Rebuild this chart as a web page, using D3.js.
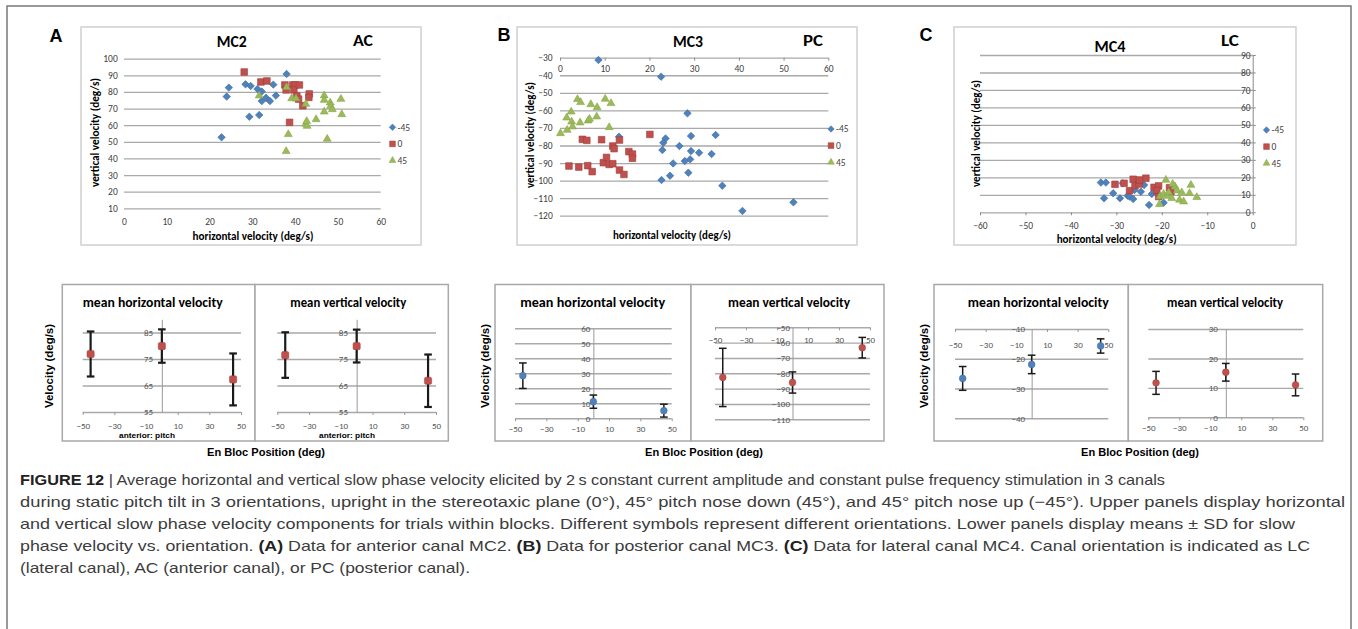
<!DOCTYPE html>
<html>
<head>
<meta charset="utf-8">
<script src="https://cdn.jsdelivr.net/npm/d3@7/dist/d3.min.js"></script>
<style>
html,body{margin:0;padding:0;background:#fff;}
svg{display:block;}
</style>
</head>
<body>
<svg id="fig" width="1358" height="629"></svg>
<script>
// ================= DATA =================
const orientationLabels = ["-45", "0", "45"];

// Panel A (MC2, AC) : [horizontal velocity, vertical velocity]
const mc2Neg45 = [[22.8,52.7],[24.0,77.2],[24.5,82.6],[28.4,84.6],[29.6,83.6],[29.3,65.1],[31.2,81.8],[31.6,66.1],[32.2,80.2],[32.2,74.5],[33.2,76.5],[34.1,74.5],[34.9,84.4],[35.5,77.8],[38.0,90.8]];
const mc2Zero  = [[28.1,92.0],[32.0,86.0],[33.4,86.6],[37.6,84.2],[37.9,81.2],[38.7,61.7],[39.4,84.2],[40.0,84.2],[39.7,81.2],[40.4,77.6],[41.0,84.2],[40.8,75.7],[41.8,71.7],[43.3,78.8],[43.2,76.7]];
const mc2Pos45 = [[31.6,77.8],[38.0,82.8],[38.4,54.5],[37.9,44.3],[39.2,76.1],[40.2,76.0],[42.5,72.7],[42.5,60.7],[42.8,59.5],[42.7,62.4],[44.9,63.5],[46.8,77.8],[46.8,75.1],[46.8,68.1],[47.5,51.7],[48.2,73.5],[48.3,71.5],[48.7,69.5],[50.7,75.7],[50.9,66.5]];

// Panel B (MC3, PC)
const mc3Neg45 = [[8.6,-31.3],[22.6,-40.8],[28.5,-61.7],[13.2,-75.0],[23.6,-76.0],[23.1,-78.4],[22.9,-82.6],[29.3,-74.6],[34.8,-74.0],[26.7,-80.3],[29.3,-83.2],[31.1,-84.1],[33.9,-84.9],[25.3,-90.2],[27.9,-88.9],[29.1,-87.9],[24.6,-97.2],[28.7,-95.5],[22.7,-99.7],[36.3,-102.9],[40.8,-117.3],[52.2,-112.4]];
const mc3Zero  = [[2.0,-91.7],[4.2,-92.3],[5.0,-76.5],[6.0,-77.1],[6.2,-91.5],[7.2,-94.9],[9.3,-76.7],[9.7,-89.8],[10.4,-86.8],[11.0,-90.8],[11.8,-90.4],[11.8,-80.3],[12.1,-81.8],[13.3,-76.9],[13.3,-94.0],[14.3,-96.5],[15.4,-83.5],[16.2,-84.9],[16.2,-87.3],[20.1,-73.7]];
const mc3Pos45 = [[0.1,-73.1],[1.5,-64.2],[1.6,-71.2],[2.5,-60.8],[2.6,-66.5],[2.8,-69.3],[3.9,-53.7],[4.6,-55.4],[4.5,-67.0],[6.3,-65.9],[6.6,-64.9],[6.9,-56.6],[8.3,-58.3],[8.2,-63.6],[10.1,-53.5],[11.4,-56.0],[11.0,-69.7]];

// Panel C (MC4, LC)
const mc4Neg45 = [[-33.4,17.0],[-32.3,17.0],[-32.7,8.0],[-30.7,10.9],[-29.2,8.0],[-28.6,16.6],[-27.5,9.5],[-27.1,9.0],[-26.3,7.6],[-26.0,12.8],[-24.6,11.8],[-23.9,15.6],[-22.8,4.2],[-22.2,10.5],[-19.6,5.5],[-21.5,13.7]];
const mc4Zero  = [[-30.3,16.0],[-28.3,16.6],[-27.1,12.4],[-26.3,18.9],[-25.9,15.3],[-25.0,16.2],[-23.5,19.5],[-21.7,14.3],[-20.7,15.1],[-21.1,12.4],[-20.7,9.0],[-18.3,14.1],[-18.0,11.8],[-24.9,18.5]];
const mc4Pos45 = [[-20.5,4.6],[-20.4,9.0],[-19.6,10.5],[-19.1,18.5],[-18.9,9.3],[-18.5,11.3],[-17.8,8.0],[-17.1,14.7],[-16.6,12.4],[-16.1,7.1],[-15.6,11.3],[-15.2,6.1],[-13.9,10.9],[-13.6,15.6],[-12.3,8.6],[-17.6,16.2]];

// Scatter tick labels
const mc2XTicks = [0,10,20,30,40,50,60];
const mc2YTicks = [10,20,30,40,50,60,70,80,90,100];
const mc3XTicks = [0,10,20,30,40,50,60];
const mc3YTicks = [-30,-40,-50,-60,-70,-80,-90,-100,-110,-120];
const mc4XTicks = [-60,-50,-40,-30,-20,-10,0];
const mc4YTicks = [0,10,20,30,40,50,60,70,80,90];

// Lower panels: means ± SD vs en bloc position
const enBlocPositions = [-45, 0, 45];
const enBlocTicks = [-50,-30,-10,10,30,50];
const mc2MeanH = [76.9, 79.9, 67.3];   const mc2SdH = [8.5, 6.3, 9.8];
const mc2MeanV = [76.5, 79.9, 66.8];   const mc2SdV = [8.6, 6.2, 9.9];
const mc3MeanH = [28.4, 11.1, 5.1];    const mc3SdH = [8.5, 4.4, 4.3];
const mc3MeanV = [-82.7, -86.0, -63.3]; const mc3SdV = [19.0, 6.9, 6.7];
const mc4MeanH = [-26.6, -21.9, -15.7]; const mc4SdH = [4.0, 3.1, 2.4];
const mc4MeanV = [11.7, 15.3, 11.0];   const mc4SdV = [3.9, 3.0, 3.7];
const mc2MeanTicks = [55,65,75,85];
const mc3MeanHTicks = [0,10,20,30,40,50,60];
const mc3MeanVTicks = [-50,-60,-70,-80,-90,-100,-110];
const mc4MeanHTicks = [-10,-20,-30,-40];
const mc4MeanVTicks = [0,10,20,30];

// Caption
const captionLines = [
  [["FIGURE 12", true], [" | Average horizontal and vertical slow phase velocity elicited by 2\u2009s constant current amplitude and constant pulse frequency stimulation in 3 canals", false]],
  [["during static pitch tilt in 3 orientations, upright in the stereotaxic plane (0\u00b0), 45\u00b0 pitch nose down (45\u00b0), and 45\u00b0 pitch nose up (\u221245\u00b0). Upper panels display horizontal", false]],
  [["and vertical slow phase velocity components for trials within blocks. Different symbols represent different orientations. Lower panels display means \u00b1 SD for slow", false]],
  [["phase velocity vs. orientation. ", false], ["(A)", true], [" Data for anterior canal MC2. ", false], ["(B)", true], [" Data for posterior canal MC3. ", false], ["(C)", true], [" Data for lateral canal MC4. Canal orientation is indicated as LC", false]],
  [["(lateral canal), AC (anterior canal), or PC (posterior canal).", false]]
];

// ================= DRAWING =================
const svg = d3.select("#fig");
const CF = "Carlito, Lato, 'Open Sans', 'Liberation Sans', sans-serif";
const AF = "'Liberation Sans', Arial, sans-serif";
const GRID = "#A9A9A9";

function txt(g, x, y, s, o = {}) {
  const t = g.append("text").attr("x", x).attr("y", y).text(s)
    .attr("font-family", o.family || CF).attr("font-size", o.size || 10)
    .attr("font-weight", o.weight || "normal").attr("fill", o.fill || "#000")
    .attr("text-anchor", o.anchor || "middle");
  if (o.len) t.attr("textLength", o.len).attr("lengthAdjust", "spacingAndGlyphs");
  if (o.rotate) t.attr("transform", `rotate(-90 ${x} ${y})`);
  return t;
}

// outer frame
svg.append("path").attr("d", "M7,660 V6 H1351 V660").attr("fill", "none")
  .attr("stroke", "#7a7a7a").attr("stroke-width", 1.5);

const seriesStyle = [
  {kind: "diamond", fill: "#4F81BD", stroke: "#41719F"},
  {kind: "square", fill: "#C0504D", stroke: "#A03E3B"},
  {kind: "triangle", fill: "#9BBB59", stroke: "#88A64B"}
];
function symPath(kind, k) {
  if (kind === "diamond") return d3.symbol().type(d3.symbolSquare).size(28 * k)();
  if (kind === "square") return d3.symbol().type(d3.symbolSquare).size(44 * k)();
  return d3.symbol().type(d3.symbolTriangle).size(27 * k)();
}
function styleText(s, size, fill) {
  s.selectAll("text").attr("font-family", CF).attr("font-size", size).attr("fill", fill);
}

function scatter(c) {
  const g = svg.append("g");
  g.append("rect").attr("x", c.box[0]).attr("y", c.box[1]).attr("width", c.box[2]).attr("height", c.box[3])
    .attr("fill", "#fff").attr("stroke", "#CFCFCF").attr("stroke-width", 1.5);
  const x = d3.scaleLinear().domain(c.xDomain).range(c.xRange);
  const y = d3.scaleLinear().domain(c.yDomain).range(c.yRange);
  const w = c.xRange[1] - c.xRange[0];
  g.append("g").attr("transform", `translate(${c.xRange[0]},0)`)
    .call(d3.axisLeft(y).tickValues(c.yTicks).tickSize(-w).tickFormat(""))
    .call(s => { s.select(".domain").remove(); s.selectAll("line").attr("stroke", GRID).attr("stroke-width", 1.3); });
  const ya = g.append("g").attr("transform", `translate(${x(c.yAxisAt)},0)`)
    .call(d3.axisLeft(y).tickValues(c.yTicks).tickSize(0).tickPadding(c.yPad));
  ya.select(".domain").attr("stroke", c.yLine ? "#8a8a8a" : "none");
  styleText(ya, 9.5, "#404040");
  if (c.yLine) {
    g.append("g").attr("transform", `translate(${x(c.yAxisAt)},0)`)
      .call(d3.axisRight(y).tickValues(c.yTicks).tickSize(3).tickFormat(""))
      .call(s => { s.select(".domain").remove(); s.selectAll("line").attr("stroke", "#8a8a8a"); });
  }
  const xa = g.append("g").attr("transform", `translate(0,${y(c.xAxisAt)})`)
    .call(d3.axisBottom(x).tickValues(c.xTicks).tickSize(c.xTick).tickPadding(c.xPad));
  xa.select(".domain").remove();
  xa.selectAll("line").attr("stroke", "#8a8a8a");
  styleText(xa, 9.5, "#404040");
  c.series.forEach((pts, i) => {
    const st = seriesStyle[i];
    g.append("g").selectAll("path").data(pts).join("path")
      .attr("d", symPath(st.kind, 1))
      .attr("transform", d => `translate(${x(d[0])},${y(d[1])})` + (st.kind === "diamond" ? " rotate(45)" : ""))
      .attr("fill", st.fill).attr("stroke", st.stroke).attr("stroke-width", 0.6);
  });
  orientationLabels.forEach((lab, i) => {
    const st = seriesStyle[i];
    g.append("path").attr("d", symPath(st.kind, 0.75))
      .attr("transform", `translate(${c.leg[0]},${c.leg[1] + i * 16.6})` + (st.kind === "diamond" ? " rotate(45)" : ""))
      .attr("fill", st.fill).attr("stroke", st.stroke).attr("stroke-width", 0.5);
    txt(g, c.leg[0] + 5, c.leg[1] + i * 16.6 + 3.4, lab, {size: 9.5, anchor: "start", fill: "#404040"});
  });
  txt(svg, c.letter[0], c.letter[1], c.letter[2], {family: AF, size: 18, weight: "bold"});
  txt(g, c.title[0], c.title[1], c.title[2], {size: 15, weight: "bold", len: c.title[3]});
  txt(g, c.canal[0], c.canal[1], c.canal[2], {size: 15, weight: "bold", len: c.canal[3]});
  txt(g, c.xTitle[0], c.xTitle[1], "horizontal velocity (deg/s)", {size: 11, weight: "bold", len: c.xTitle[2]});
  txt(g, c.yTitle[0], c.yTitle[1], "vertical velocity (deg/s)", {size: 11, weight: "bold", len: c.yTitle[2], rotate: true});
}

scatter({
  letter: [56, 42, "A"], title: [231.7, 47, "MC2", 30], canal: [363, 46, "AC", 20],
  box: [81, 27, 340, 218], xDomain: [0, 60], xRange: [124, 380.7], yDomain: [10, 100], yRange: [208.3, 58.7],
  xTicks: mc2XTicks, yTicks: mc2YTicks, yAxisAt: 0, yPad: 6.3, yLine: false, xAxisAt: 10, xTick: 0, xPad: 9.5,
  series: [mc2Neg45, mc2Zero, mc2Pos45], leg: [392.5, 127.3],
  xTitle: [253, 240, 121], yTitle: [99, 132.5, 109]
});
scatter({
  letter: [504, 41, "B"], title: [688, 47, "MC3", 30], canal: [813, 46, "PC", 20],
  box: [517, 27, 340, 218], xDomain: [0, 60], xRange: [560, 828.3], yDomain: [-120, -30], yRange: [215.7, 57.7],
  xTicks: mc3XTicks, yTicks: mc3YTicks, yAxisAt: 0, yPad: 7.3, yLine: false, xAxisAt: -30, xTick: 3, xPad: 4.5,
  series: [mc3Neg45, mc3Zero, mc3Pos45], leg: [831, 129],
  xTitle: [672, 239, 118], yTitle: [534, 135, 106]
});
scatter({
  letter: [926, 41, "C"], title: [1110, 51.5, "MC4", 31], canal: [1230, 46, "LC", 18],
  box: [954, 27, 342, 218], xDomain: [-60, 0], xRange: [980, 1252.7], yDomain: [0, 90], yRange: [212.3, 55],
  xTicks: mc4XTicks, yTicks: mc4YTicks, yAxisAt: 0, yPad: 2, yLine: true, xAxisAt: 0, xTick: 3, xPad: 6.5,
  series: [mc4Neg45, mc4Zero, mc4Pos45], leg: [1266.5, 130],
  xTitle: [1116.7, 243.3, 120], yTitle: [980, 133.5, 107]
});

// ---------- lower panels ----------
const BOX_TOP = 284.5, BOX_BOT = 441;
function meanChart(c) {
  const g = svg.append("g");
  g.append("rect").attr("x", c.box[0]).attr("y", BOX_TOP).attr("width", c.box[1] - c.box[0]).attr("height", BOX_BOT - BOX_TOP)
    .attr("fill", "#fff").attr("stroke", "#A8A8A8").attr("stroke-width", 1.5);
  const x = d3.scaleLinear().domain([-50, 50]).range(c.xRange);
  const y = d3.scaleLinear().domain(c.yDomain).range(c.yRange);
  const w = c.xRange[1] - c.xRange[0];
  g.append("g").attr("transform", `translate(${c.xRange[0]},0)`)
    .call(d3.axisLeft(y).tickValues(c.yTicks).tickSize(-w).tickFormat(""))
    .call(s => { s.select(".domain").remove(); s.selectAll("line").attr("stroke", GRID).attr("stroke-width", 1.4); });
  const ya = g.append("g").attr("transform", `translate(${x(0)},0)`)
    .call(d3.axisLeft(y).tickValues(c.yTicks).tickSize(0).tickPadding(c.yPad));
  ya.select(".domain").attr("stroke", "#9a9a9a").attr("stroke-width", 1);
  styleText(ya, 9, "#555");
  const xa = g.append("g").attr("transform", `translate(0,${y(c.xAt)})`)
    .call(d3.axisBottom(x).tickValues(enBlocTicks).tickSize(3).tickPadding(c.xPad));
  xa.select(".domain").remove();
  xa.selectAll("line").attr("stroke", "#9a9a9a");
  styleText(xa, 9, "#555");
  const rows = enBlocPositions.map((p, i) => ({p, m: c.mean[i], sd: c.sd[i]}));
  const eb = g.append("g").attr("stroke", "#1a1a1a").attr("stroke-width", c.ebw);
  eb.selectAll("line.v").data(rows).join("line").attr("class", "v")
    .attr("x1", d => x(d.p)).attr("x2", d => x(d.p)).attr("y1", d => y(d.m - d.sd)).attr("y2", d => y(d.m + d.sd));
  eb.selectAll("line.t").data(rows).join("line").attr("class", "t")
    .attr("x1", d => x(d.p) - 3.8).attr("x2", d => x(d.p) + 3.8).attr("y1", d => y(d.m + d.sd)).attr("y2", d => y(d.m + d.sd));
  eb.selectAll("line.b").data(rows).join("line").attr("class", "b")
    .attr("x1", d => x(d.p) - 3.8).attr("x2", d => x(d.p) + 3.8).attr("y1", d => y(d.m - d.sd)).attr("y2", d => y(d.m - d.sd));
  if (c.marker === "square") {
    g.selectAll("rect.m").data(rows).join("rect").attr("class", "m")
      .attr("x", d => x(d.p) - 3.6).attr("y", d => y(d.m) - 3.6).attr("width", 7.2).attr("height", 7.2).attr("rx", 1.5)
      .attr("fill", c.color).attr("stroke", "#A03E3B").attr("stroke-width", 0.5);
  } else {
    g.selectAll("circle.m").data(rows).join("circle").attr("class", "m")
      .attr("cx", d => x(d.p)).attr("cy", d => y(d.m)).attr("r", 3.4)
      .attr("fill", c.color).attr("stroke", d3.color(c.color).darker(0.4)).attr("stroke-width", 0.5);
  }
  txt(g, c.title[0], 306.5, c.title[1], {size: 13.5, weight: "bold", len: c.title[2]});
  if (c.sub) txt(g, c.sub, 438, "anterior: pitch", {family: AF, size: 8, weight: "bold", len: 56});
}

meanChart({box: [62.3, 255], xRange: [82.7, 241], yDomain: [55, 90], yRange: [412, 319.3], yTicks: mc2MeanTicks,
  yPad: 8.7, xAt: 55, xPad: 7.5, mean: mc2MeanH, sd: mc2SdH, ebw: 2.2, marker: "square", color: "#C0504D",
  title: [152.7, "mean horizontal velocity", 140], sub: 147});
meanChart({box: [255, 448.3], xRange: [277.3, 436], yDomain: [55, 90], yRange: [412, 319.3], yTicks: mc2MeanTicks,
  yPad: 8.7, xAt: 55, xPad: 7.5, mean: mc2MeanV, sd: mc2SdV, ebw: 2.2, marker: "square", color: "#C0504D",
  title: [348.3, "mean vertical velocity", 116], sub: 347});
meanChart({box: [495, 691], xRange: [515, 671.7], yDomain: [0, 60], yRange: [418.3, 328.3], yTicks: mc3MeanHTicks,
  yPad: 3, xAt: 0, xPad: 4, mean: mc3MeanH, sd: mc3SdH, ebw: 1.5, marker: "circle", color: "#4F81BD",
  title: [592.7, "mean horizontal velocity", 145]});
meanChart({box: [691, 884], xRange: [715, 870], yDomain: [-110, -50], yRange: [419.3, 327.3], yTicks: mc3MeanVTicks,
  yPad: 2.5, xAt: -50, xPad: 6.5, mean: mc3MeanV, sd: mc3SdV, ebw: 1.5, marker: "circle", color: "#C0504D",
  title: [789, "mean vertical velocity", 122]});
meanChart({box: [934, 1128.3], xRange: [955, 1108.3], yDomain: [-40, -10], yRange: [418.3, 329], yTicks: mc4MeanHTicks,
  yPad: 6.5, xAt: -10, xPad: 10, mean: mc4MeanH, sd: mc4SdH, ebw: 1.5, marker: "circle", color: "#4F81BD",
  title: [1038.3, "mean horizontal velocity", 141]});
meanChart({box: [1128.3, 1322.7], xRange: [1148.3, 1303.3], yDomain: [0, 30], yRange: [417.3, 329], yTicks: mc4MeanVTicks,
  yPad: 8, xAt: 0, xPad: 4, mean: mc4MeanV, sd: mc4SdV, ebw: 1.5, marker: "circle", color: "#C0504D",
  title: [1225, "mean vertical velocity", 116]});

[[52.5, 266], [489, 704], [927.5, 1140]].forEach(([vx, ex]) => {
  txt(svg, vx, 366, "Velocity (deg/s)", {family: AF, size: 11.5, weight: "bold", len: 84, rotate: true});
  txt(svg, ex, 456, "En Bloc Position (deg)", {family: AF, size: 11, weight: "bold", len: 118});
});

// caption
const capWidths = [1145, 1325, 1275, 1290, 450];
captionLines.forEach((line, i) => {
  const t = svg.append("text").attr("x", 20).attr("y", 485 + i * 22)
    .attr("font-family", AF).attr("font-size", 15).attr("fill", "#3c3c3c")
    .attr("textLength", capWidths[i]).attr("lengthAdjust", "spacingAndGlyphs");
  line.forEach(([s, b]) => t.append("tspan").text(s).attr("font-weight", b ? "bold" : "normal").attr("fill", b ? "#222" : "#3c3c3c"));
});
</script>
</body>
</html>
